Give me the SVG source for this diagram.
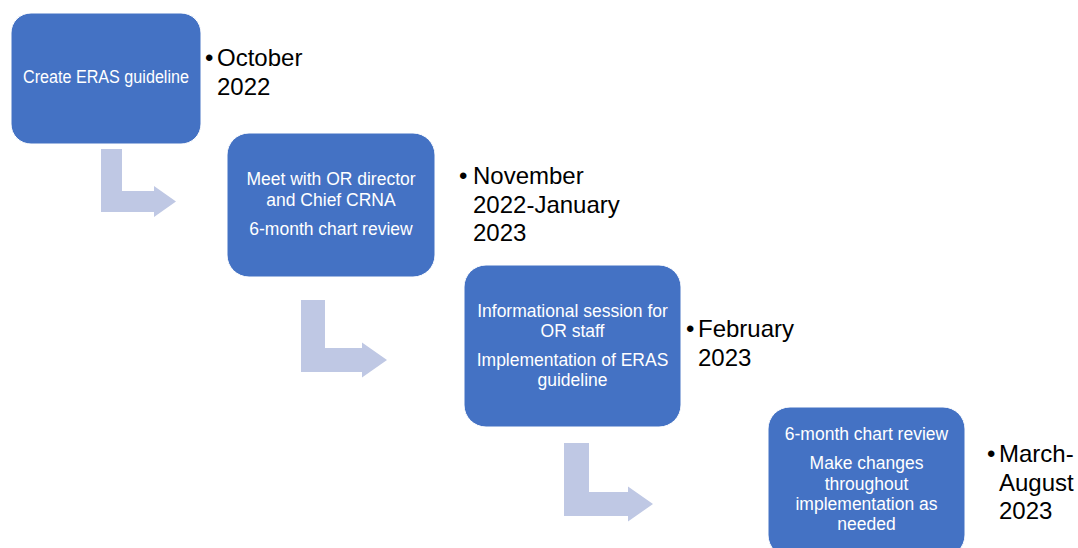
<svg xmlns="http://www.w3.org/2000/svg" width="1078" height="548" viewBox="0 0 1078 548">
  <style>
    .box { fill: #4472C4; stroke: #FFFFFF; stroke-width: 1; }
    .btxt { font-family: "Liberation Sans", Arial, sans-serif; font-size: 17.5px; fill: #FFFFFF; text-anchor: middle; }
    .date { font-family: "Liberation Sans", Arial, sans-serif; font-size: 24px; fill: #000000; }
    .arrow { fill: #BFC8E4; stroke: none; }
  </style>
  <rect width="1078" height="548" fill="#FFFFFF"/>

  <g id="connectors">
    <path class="arrow" d="M101,149 H122 V191 H154 V186 L176,201.5 L154,217 V212 H101 Z"/>
    <path class="arrow" d="M301,300 H325 V348 H362 V342.5 L387,360 L362,377.5 V372 H301 Z"/>
    <path class="arrow" d="M564,443 H589 V492 H628 V486.5 L653,504 L628,521.5 V516 H564 Z"/>
  </g>

  <g id="step1">
    <rect class="box" x="11" y="13" width="190" height="131" rx="20" ry="20"/>
    <text class="btxt" x="106" y="83" textLength="166" lengthAdjust="spacingAndGlyphs">Create ERAS guideline</text>
  </g>
  <g id="date1">
    <text class="date"><tspan x="205" y="66">•</tspan><tspan x="217" y="66">October</tspan><tspan x="217" y="94.5">2022</tspan></text>
  </g>

  <g id="step2">
    <rect class="box" x="227" y="133" width="208" height="144" rx="22" ry="22"/>
    <text class="btxt"><tspan x="331" y="185">Meet with OR director</tspan><tspan x="331" y="206">and Chief CRNA</tspan><tspan x="331" y="235">6-month chart review</tspan></text>
  </g>
  <g id="date2">
    <text class="date"><tspan x="459" y="184">•</tspan><tspan x="473" y="184">November</tspan><tspan x="473" y="212.5">2022-January</tspan><tspan x="473" y="241">2023</tspan></text>
  </g>

  <g id="step3">
    <rect class="box" x="464" y="265" width="217" height="162" rx="22" ry="22"/>
    <text class="btxt"><tspan x="572.5" y="317">Informational session for</tspan><tspan x="572.5" y="337">OR staff</tspan><tspan x="572.5" y="366">Implementation of ERAS</tspan><tspan x="572.5" y="386">guideline</tspan></text>
  </g>
  <g id="date3">
    <text class="date"><tspan x="686" y="337">•</tspan><tspan x="698" y="337">February</tspan><tspan x="698" y="365.5">2023</tspan></text>
  </g>

  <g id="step4">
    <rect class="box" x="768" y="407" width="197" height="150" rx="22" ry="22"/>
    <text class="btxt"><tspan x="866.5" y="440">6-month chart review</tspan><tspan x="866.5" y="469">Make changes</tspan><tspan x="866.5" y="490">throughout</tspan><tspan x="866.5" y="510">implementation as</tspan><tspan x="866.5" y="530">needed</tspan></text>
  </g>
  <g id="date4">
    <text class="date"><tspan x="987" y="462">•</tspan><tspan x="999" y="462">March-</tspan><tspan x="999" y="490.5">August</tspan><tspan x="999" y="519">2023</tspan></text>
  </g>
</svg>
